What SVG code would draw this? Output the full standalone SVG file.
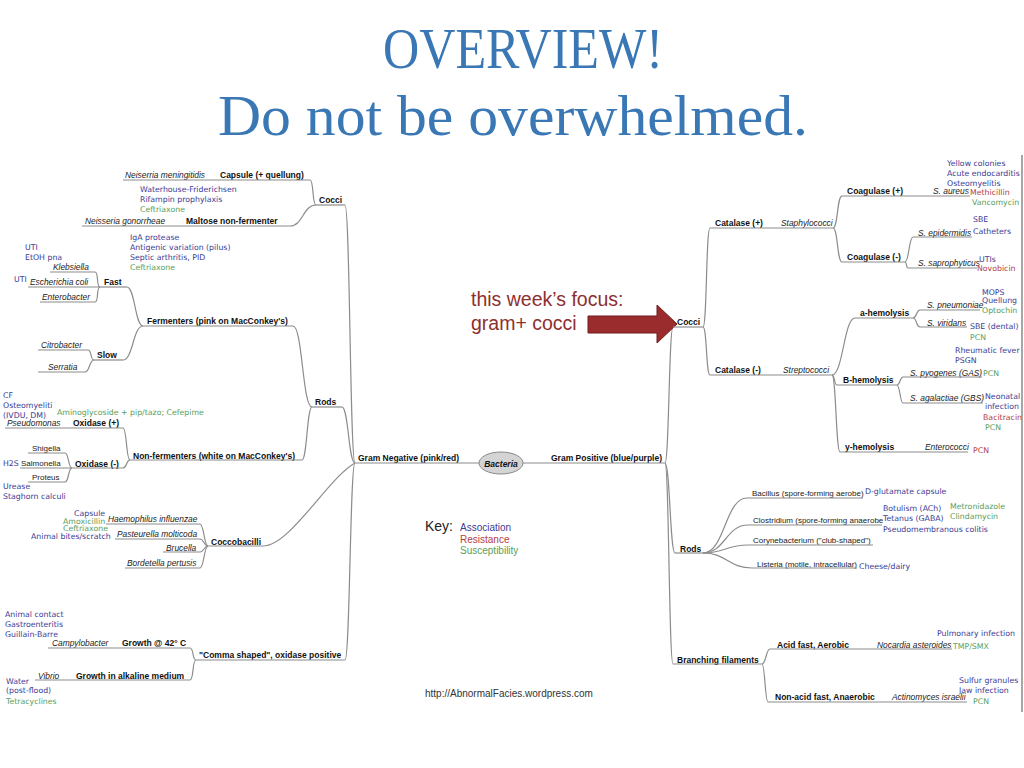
<svg xmlns="http://www.w3.org/2000/svg" width="1024" height="768" viewBox="0 0 1024 768">
<style>
.t{font-family:"Liberation Serif","Times New Roman",serif;font-size:56px;fill:#3a77b5}
.b{font-family:"Liberation Sans",Arial,sans-serif;font-size:8.5px;font-weight:bold;fill:#111}
.i{font-family:"Liberation Sans",Arial,sans-serif;font-size:8.4px;font-style:italic;fill:#222}
.r{font-family:"Liberation Sans",Arial,sans-serif;font-size:8px;fill:#222}
.a{font-family:"DejaVu Sans",Verdana,sans-serif;font-size:7.8px;fill:#3b3b94}
.b,.i,.r,.a,.k{transform:translateY(2.5px)}
.s{fill:#5a9e5a}
.x{fill:#b3403f}
.u{fill:none;stroke:#8c8c8c;stroke-width:1.2}
.f{font-family:"Liberation Sans",Arial,sans-serif;font-size:19.5px;fill:#8e2f2f}
.k{font-family:"Liberation Sans",Arial,sans-serif;font-size:10px}
</style>
<rect width="1024" height="768" fill="#fff"/>
<g id="title">
<text class="t" x="383" y="68" textLength="280" lengthAdjust="spacingAndGlyphs">OVERVIEW!</text>
<text class="t" x="218" y="135" textLength="590" lengthAdjust="spacingAndGlyphs">Do not be overwhelmed.</text>
</g>
<line x1="1022" y1="155" x2="1022" y2="712" stroke="#777" stroke-width="1.3"/>
<g id="connectors" class="u">
<path d="M345,205 C350,205 350,463 355,463"/>
<path d="M342,407 C348.5,407 348.5,463 355,463"/>
<path d="M263,546 C290,546 328,478 355,463"/>
<path d="M345,660 C350,660 350,463 355,463"/>
<path d="M310,180 C314,180 312,205 316,205"/>
<path d="M290,226 C303,226 303,205 316,205"/>
<path d="M293,326 C302.5,326 302.5,407 312,407"/>
<path d="M302,460 C307,460 307,407 312,407"/>
<path d="M127,287 C135,287 135,326 143,326"/>
<path d="M123,360 C133,360 133,326 143,326"/>
<path d="M95,272 C99,272 96,287 100,287"/>
<path d="M95,302 C99,302 96,287 100,287"/>
<path d="M88,350 C92,350 90,360 94,360"/>
<path d="M85,372 C90,372 89,360 94,360"/>
<path d="M123,428 C127,428 126,460 130,460"/>
<path d="M123,468 C127,468 126,460 130,460"/>
<path d="M65,453 C69,453 68,468 72,468"/>
<path d="M65,482 C69,482 68,468 72,468"/>
<path d="M200,524 C204,524 204,546 208,546"/>
<path d="M200,539 C204,539 204,546 208,546"/>
<path d="M200,552 C204,552 204,546 208,546"/>
<path d="M200,568 C204,568 204,546 208,546"/>
<path d="M190,648 C194,648 192,660 196,660"/>
<path d="M190,680 C194,680 192,660 196,660"/>
<path d="M665,463 C669,463 669,327 673,327"/>
<path d="M665,463 C670,463 670,553 675,553"/>
<path d="M665,463 C669,463 669,664 673,664"/>
<path d="M703,327 C707,327 706,228 710,228"/>
<path d="M703,327 C707,327 706,375 710,375"/>
<path d="M833,228 C838,228 837,196 842,196"/>
<path d="M833,228 C838,228 837,262 842,262"/>
<path d="M905,262 C909,262 909,237 913,237"/>
<path d="M905,262 C907,262 906,268 908,268"/>
<path d="M832,375 C843,375 844,318 855,318"/>
<path d="M832,375 C835,375 834,385 837,385"/>
<path d="M832,375 C836,375 836,452 840,452"/>
<path d="M913,318 C917,318 916,310 920,310"/>
<path d="M913,318 C917,318 916,327 920,327"/>
<path d="M897,385 C900,385 900,377 903,377"/>
<path d="M897,385 C900,385 900,403 903,403"/>
<path d="M703,553 C725,553 725,498 747,498"/>
<path d="M703,553 C725,553 726,525 748,525"/>
<path d="M703,553 C725,553 726,545 748,545"/>
<path d="M703,553 C727,553 728,568 752,568"/>
<path d="M762,664 C766,664 766,649 770,649"/>
<path d="M762,664 C765,664 765,702 768,702"/>
</g>
<g id="bacteria">
<ellipse cx="501" cy="463" rx="22" ry="11" fill="#d4d4d4" stroke="#888" stroke-width="1"/>
<text class="b" x="501" y="464" text-anchor="middle" font-style="italic">Bacteria</text>
</g>
<g id="gram-negative">
<text class="b" x="358" y="458">Gram Negative (pink/red)</text>
<path class="u" d="M355,463 H479"/>
</g>
<g id="gram-positive">
<text class="b" x="551" y="458">Gram Positive (blue/purple)</text>
<path class="u" d="M523,463 H665"/>
</g>
<g id="gn-cocci">
<text class="b" x="319" y="200">Cocci</text>
<path class="u" d="M316,205 H345"/>
</g>
<g id="capsule">
<text class="i" x="125" y="175">Neiserria meningitidis</text>
<text class="b" x="220" y="175">Capsule (+ quellung)</text>
<path class="u" d="M123,180 H310"/>
<text class="a" x="140" y="189">Waterhouse-Friderichsen</text>
<text class="a" x="140" y="199">Rifampin prophylaxis</text>
<text class="a s" x="140" y="209">Ceftriaxone</text>
</g>
<g id="maltose">
<text class="i" x="85" y="221">Neisseria gonorrheae</text>
<text class="b" x="186" y="221">Maltose non-fermenter</text>
<path class="u" d="M82,226 H290"/>
<text class="a" x="130" y="237">IgA protease</text>
<text class="a" x="130" y="247">Antigenic variation (pilus)</text>
<text class="a" x="130" y="257">Septic arthritis, PID</text>
<text class="a s" x="130" y="267">Ceftriaxone</text>
</g>
<g id="gn-rods">
<text class="b" x="315" y="402">Rods</text>
<path class="u" d="M312,407 H342"/>
</g>
<g id="fermenters">
<text class="b" x="147" y="321">Fermenters (pink on MacConkey's)</text>
<path class="u" d="M143,326 H293"/>
</g>
<g id="fast">
<text class="b" x="104" y="282">Fast</text>
<path class="u" d="M100,287 H127"/>
</g>
<g id="klebsiella">
<text class="a" x="25" y="247">UTI</text>
<text class="a" x="25" y="257">EtOH pna</text>
<text class="i" x="53" y="267">Klebsiella</text>
<path class="u" d="M50,272 H95"/>
</g>
<g id="ecoli">
<text class="a" x="14" y="279">UTI</text>
<text class="i" x="30" y="282">Escherichia coli</text>
<path class="u" d="M28,287 H100"/>
</g>
<g id="enterobacter">
<text class="i" x="42" y="297">Enterobacter</text>
<path class="u" d="M40,302 H95"/>
</g>
<g id="slow">
<text class="b" x="97" y="355">Slow</text>
<path class="u" d="M94,360 H123"/>
</g>
<g id="citrobacter">
<text class="i" x="41" y="345">Citrobacter</text>
<path class="u" d="M38,350 H88"/>
</g>
<g id="serratia">
<text class="i" x="48" y="367">Serratia</text>
<path class="u" d="M38,372 H85"/>
</g>
<g id="non-fermenters">
<text class="b" x="133" y="456">Non-fermenters (white on MacConkey's)</text>
<path class="u" d="M130,460 H302"/>
</g>
<g id="oxidase-pos">
<text class="a" x="3" y="395">CF</text>
<text class="a" x="3" y="405">Osteomyeliti</text>
<text class="a" x="3" y="415">(IVDU, DM)</text>
<text class="a s" x="57" y="412">Aminoglycoside + pip/tazo; Cefepime</text>
<text class="i" x="7" y="423">Pseudomonas</text>
<text class="b" x="73" y="423">Oxidase (+)</text>
<path class="u" d="M5,428 H123"/>
</g>
<g id="oxidase-neg">
<text class="b" x="75" y="464">Oxidase (-)</text>
<path class="u" d="M72,468 H123"/>
</g>
<g id="shigella">
<text class="r" x="32" y="448">Shigella</text>
<path class="u" d="M28,453 H65"/>
</g>
<g id="salmonella">
<text class="a" x="3" y="463">H2S</text>
<text class="r" x="21" y="463">Salmonella</text>
<path class="u" d="M20,468 H72"/>
</g>
<g id="proteus">
<text class="r" x="32" y="477">Proteus</text>
<path class="u" d="M28,482 H65"/>
<text class="a" x="3" y="486">Urease</text>
<text class="a" x="3" y="496">Staghorn calculi</text>
</g>
<g id="coccobacilli">
<text class="b" x="211" y="542">Coccobacilli</text>
<path class="u" d="M208,546 H263"/>
</g>
<g id="haemophilus">
<text class="a" x="74" y="513">Capsule</text>
<text class="a s" x="63" y="521">Amoxicillin</text>
<text class="i" x="108" y="519">Haemophilus influenzae</text>
<path class="u" d="M106,524 H200"/>
</g>
<g id="pasteurella">
<text class="a s" x="63" y="528">Ceftriaxone</text>
<text class="a" x="31" y="536">Animal bites/scratch</text>
<text class="i" x="117" y="534">Pasteurella molticoda</text>
<path class="u" d="M115,539 H200"/>
</g>
<g id="brucella">
<text class="i" x="166" y="548">Brucella</text>
<path class="u" d="M163,552 H200"/>
</g>
<g id="bordetella">
<text class="i" x="127" y="563">Bordetella pertusis</text>
<path class="u" d="M125,568 H200"/>
</g>
<g id="comma">
<text class="b" x="199" y="655">"Comma shaped", oxidase positive</text>
<path class="u" d="M196,660 H345"/>
</g>
<g id="growth42">
<text class="a" x="5" y="614">Animal contact</text>
<text class="a" x="5" y="624">Gastroenteritis</text>
<text class="a" x="5" y="634">Guillain-Barre</text>
<text class="i" x="52" y="643">Campylobacter</text>
<text class="b" x="122" y="643">Growth @ 42° C</text>
<path class="u" d="M48,648 H190"/>
</g>
<g id="alkaline">
<text class="i" x="38" y="676">Vibrio</text>
<text class="b" x="76" y="676">Growth in alkaline medium</text>
<path class="u" d="M35,680 H190"/>
<text class="a" x="6" y="681">Water</text>
<text class="a" x="6" y="690">(post-flood)</text>
<text class="a s" x="6" y="701">Tetracyclines</text>
</g>
<g id="key">
<text x="425" y="531" style="font-family:'Liberation Sans',Arial,sans-serif;font-size:14px;fill:#222">Key:</text>
<text class="k" x="460" y="528" fill="#3b3b94">Association</text>
<text class="k" x="460" y="540" fill="#b3403f">Resistance</text>
<text class="k" x="460" y="551" fill="#5a9e5a">Susceptibility</text>
</g>
<g id="url">
<text class="k" x="425" y="694" fill="#333">http://AbnormalFacies.wordpress.com</text>
</g>
<g id="focus">
<text class="f" x="471" y="306">this week’s focus:</text>
<text class="f" x="471" y="330">gram+ cocci</text>
<polygon points="588,316 657,316 657,305 677,324 657,343 657,333 588,333" fill="#9a2c2e" stroke="#6e1c1e" stroke-width="1"/>
</g>
<g id="gp-cocci">
<text class="b" x="677" y="322">Cocci</text>
<path class="u" d="M673,327 H703"/>
</g>
<g id="catalase-pos">
<text class="b" x="715" y="223">Catalase (+)</text>
<text class="i" x="781" y="223">Staphylococci</text>
<path class="u" d="M710,228 H833"/>
</g>
<g id="coagulase-pos">
<text class="b" x="847" y="191">Coagulase (+)</text>
<text class="i" x="933" y="191">S. aureus</text>
<path class="u" d="M842,196 H970"/>
<text class="a" x="947" y="163">Yellow colonies</text>
<text class="a" x="947" y="173">Acute endocarditis</text>
<text class="a" x="947" y="183">Osteomyelitis</text>
<text class="a x" x="970" y="192">Methicillin</text>
<text class="a s" x="972" y="202">Vancomycin</text>
</g>
<g id="coagulase-neg">
<text class="b" x="847" y="257">Coagulase (-)</text>
<path class="u" d="M842,262 H905"/>
</g>
<g id="s-epidermidis">
<text class="i" x="918" y="233">S. epidermidis</text>
<path class="u" d="M913,237 H972"/>
<text class="a" x="973" y="219">SBE</text>
<text class="a" x="973" y="231">Catheters</text>
</g>
<g id="s-saprophyticus">
<text class="i" x="918" y="263">S. saprophyticus</text>
<path class="u" d="M908,268 H977"/>
<text class="a" x="979" y="259">UTIs</text>
<text class="a x" x="977" y="268">Novobicin</text>
</g>
<g id="catalase-neg">
<text class="b" x="715" y="370">Catalase (-)</text>
<text class="i" x="783" y="370">Streptococci</text>
<path class="u" d="M710,375 H832"/>
</g>
<g id="a-hemolysis">
<text class="b" x="860" y="313">a-hemolysis</text>
<path class="u" d="M855,318 H913"/>
</g>
<g id="s-pneumoniae">
<text class="i" x="927" y="305">S. pneumoniae</text>
<path class="u" d="M920,310 H980"/>
<text class="a" x="982" y="292">MOPS</text>
<text class="a" x="982" y="300">Quellung</text>
<text class="a s" x="982" y="310">Optochin</text>
</g>
<g id="s-viridans">
<text class="i" x="927" y="323">S. viridans</text>
<path class="u" d="M920,327 H967"/>
<text class="a" x="970" y="326">SBE (dental)</text>
<text class="a s" x="970" y="337">PCN</text>
</g>
<g id="b-hemolysis">
<text class="b" x="843" y="380">B-hemolysis</text>
<path class="u" d="M837,385 H897"/>
</g>
<g id="s-pyogenes">
<text class="a" x="955" y="350">Rheumatic fever</text>
<text class="a" x="955" y="360">PSGN</text>
<text class="i" x="910" y="373">S. pyogenes (GAS)</text>
<path class="u" d="M903,377 H982"/>
<text class="a s" x="983" y="373">PCN</text>
</g>
<g id="s-agalactiae">
<text class="i" x="910" y="398">S. agalactiae (GBS)</text>
<path class="u" d="M903,403 H983"/>
<text class="a" x="985" y="396">Neonatal</text>
<text class="a" x="985" y="406">infection</text>
<text class="a x" x="983" y="417">Bacitracin</text>
<text class="a s" x="985" y="427">PCN</text>
</g>
<g id="y-hemolysis">
<text class="b" x="845" y="447">y-hemolysis</text>
<text class="i" x="925" y="447">Enterococci</text>
<path class="u" d="M840,452 H968"/>
<text class="a x" x="973" y="450">PCN</text>
</g>
<g id="gp-rods">
<text class="b" x="680" y="549">Rods</text>
<path class="u" d="M675,553 H703"/>
</g>
<g id="bacillus">
<text class="r" x="752" y="493">Bacillus (spore-forming aerobe)</text>
<path class="u" d="M747,498 H863"/>
<text class="a" x="865" y="491">D-glutamate capsule</text>
</g>
<g id="clostridium">
<text class="r" x="753" y="520">Clostridium (spore-forming anaerobe</text>
<path class="u" d="M748,525 H882"/>
<text class="a" x="883" y="508">Botulism (ACh)</text>
<text class="a" x="883" y="518">Tetanus (GABA)</text>
<text class="a" x="883" y="529">Pseudomembranous colitis</text>
<text class="a s" x="950" y="506">Metronidazole</text>
<text class="a s" x="950" y="516">Clindamycin</text>
</g>
<g id="corynebacterium">
<text class="r" x="753" y="540">Corynebacterium ("club-shaped")</text>
<path class="u" d="M748,545 H873"/>
</g>
<g id="listeria">
<text class="r" x="757" y="564">Listeria (motile, intracellular)</text>
<path class="u" d="M752,568 H857"/>
<text class="a" x="859" y="566">Cheese/dairy</text>
</g>
<g id="branching">
<text class="b" x="677" y="660">Branching filaments</text>
<path class="u" d="M673,664 H762"/>
</g>
<g id="acid-fast">
<text class="b" x="777" y="645">Acid fast, Aerobic</text>
<text class="i" x="877" y="645">Nocardia asteroides</text>
<path class="u" d="M770,649 H952"/>
<text class="a" x="937" y="633">Pulmonary infection</text>
<text class="a s" x="953" y="646">TMP/SMX</text>
</g>
<g id="non-acid-fast">
<text class="b" x="775" y="697">Non-acid fast, Anaerobic</text>
<text class="i" x="892" y="697">Actinomyces israelii</text>
<path class="u" d="M768,702 H967"/>
<text class="a" x="959" y="680">Sulfur granules</text>
<text class="a" x="959" y="690">Jaw infection</text>
<text class="a s" x="973" y="701">PCN</text>
</g>
</svg>
